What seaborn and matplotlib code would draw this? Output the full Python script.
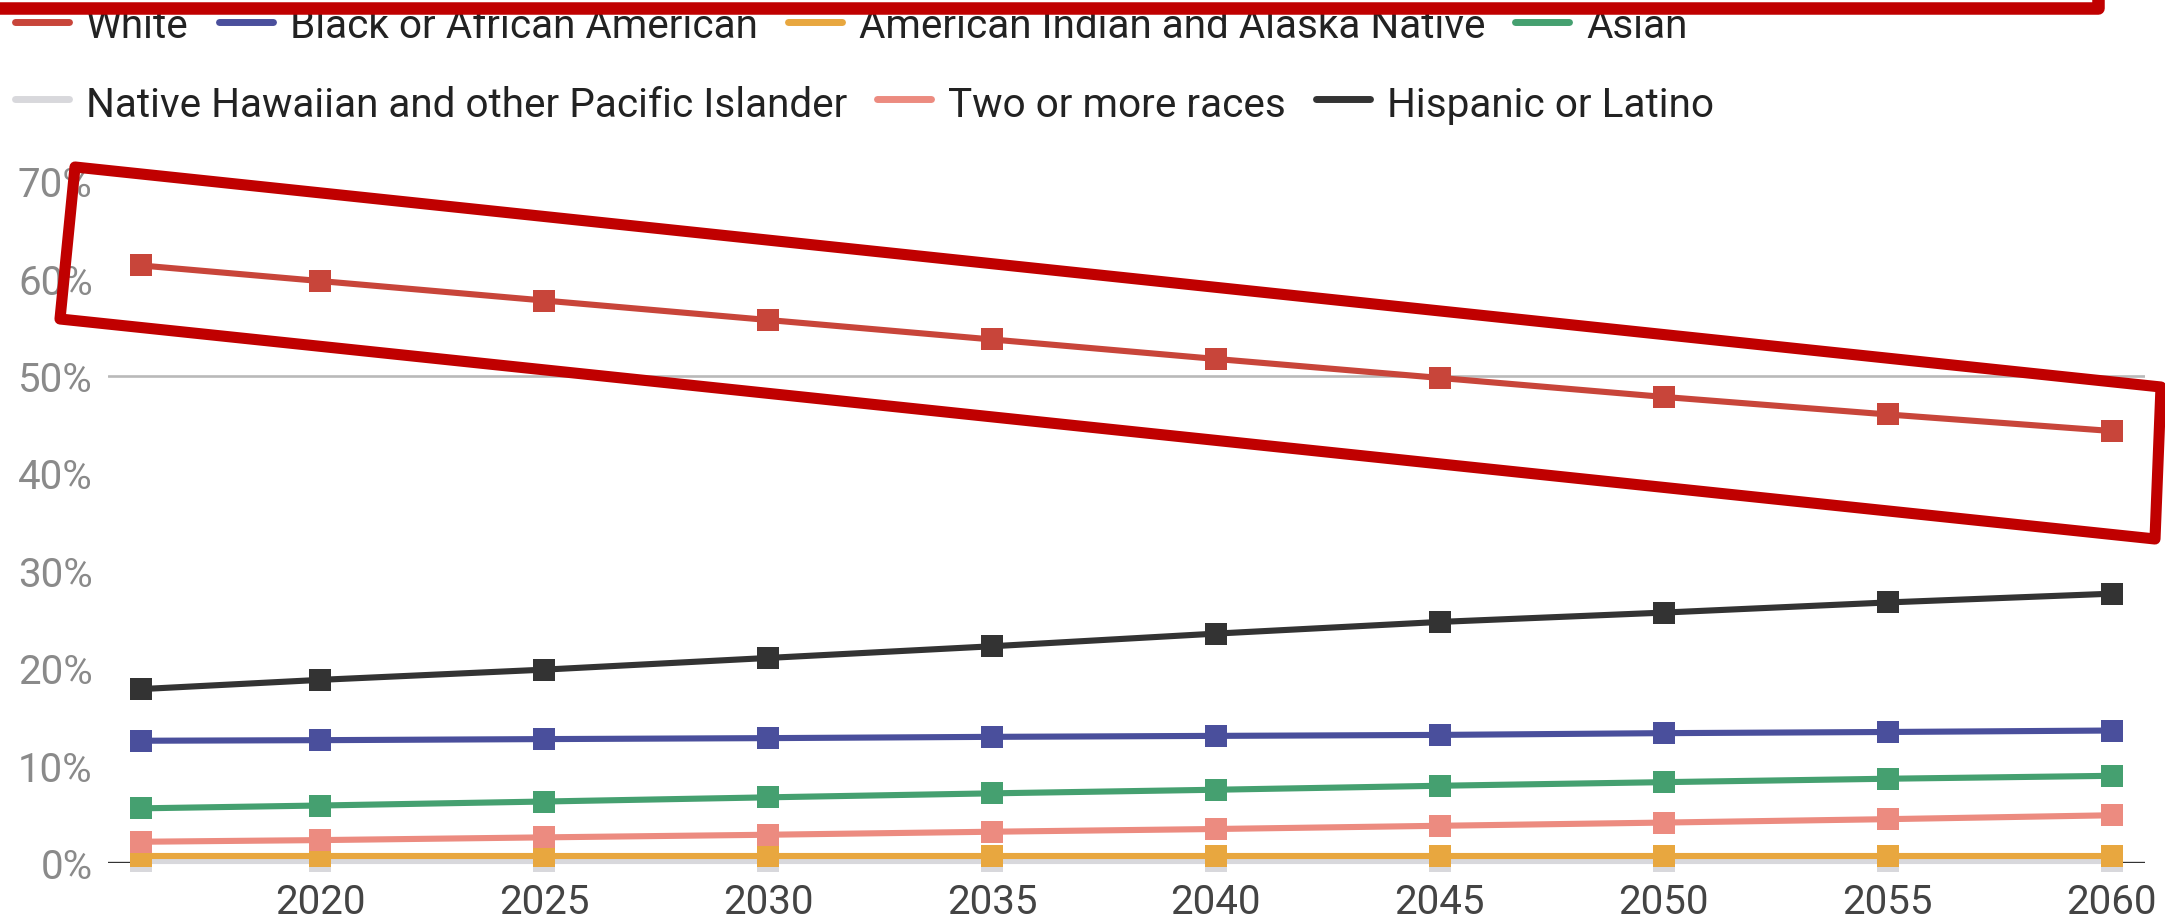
import matplotlib
matplotlib.use("Agg")
import matplotlib.pyplot as plt
from matplotlib.lines import Line2D
from matplotlib.patches import Polygon
import seaborn as sns
import pandas as pd

# Projected share of the U.S. population by race / ethnicity (%)
years = [2016, 2020, 2025, 2030, 2035, 2040, 2045, 2050, 2055, 2060]
white = [61.3, 59.7, 57.7, 55.7, 53.7, 51.7, 49.75, 47.8, 46.0, 44.3]
black = [12.5, 12.56, 12.67, 12.77, 12.9, 13.0, 13.1, 13.28, 13.4, 13.55]
aian = [0.7, 0.7, 0.7, 0.7, 0.7, 0.7, 0.7, 0.7, 0.7, 0.7]
asian = [5.56, 5.85, 6.26, 6.69, 7.1, 7.47, 7.88, 8.25, 8.6, 8.9]
nhpi = [0.2, 0.2, 0.2, 0.2, 0.2, 0.2, 0.2, 0.2, 0.2, 0.2]
two_plus = [2.13, 2.3, 2.58, 2.85, 3.16, 3.44, 3.77, 4.1, 4.45, 4.85]
hispanic = [17.8, 18.75, 19.8, 21.0, 22.2, 23.5, 24.7, 25.66, 26.7, 27.6]

groups = [
    "White",
    "Black or African American",
    "American Indian and Alaska Native",
    "Asian",
    "Native Hawaiian and other Pacific Islander",
    "Two or more races",
    "Hispanic or Latino",
]
series = [white, black, aian, asian, nhpi, two_plus, hispanic]
colors = ["#c8453a", "#4a4f9c", "#e8a73f", "#45a070", "#d8d8dc", "#ec8b80", "#333333"]
legend_rows = [groups[:4], groups[4:]]

x_ticks = [2020, 2025, 2030, 2035, 2040, 2045, 2050, 2055, 2060]
y_ticks = [0, 10, 20, 30, 40, 50, 60, 70]
y_labels = ["0%", "10%", "20%", "30%", "40%", "50%", "60%", "70%"]

df = pd.DataFrame(
    [(g, y, v) for g, vals in zip(groups, series) for y, v in zip(years, vals)],
    columns=["group", "year", "share"],
)

sns.set_theme(style="white")
plt.rcParams["font.family"] = ["Roboto", "DejaVu Sans"]

W, H = 2165, 920
fig = plt.figure(figsize=(W / 100, H / 100), dpi=100)
fig.patch.set_facecolor("white")


def fx(px):
    return px / W


def fy(py):
    return 1 - py / H


ax = fig.add_axes([fx(108), fy(863.5), fx(2145) - fx(108), fy(181.7) - fy(863.5)])
ax.set_facecolor("white")

palette = dict(zip(groups, colors))
draw_order = [groups[i] for i in (4, 2, 5, 3, 1, 6, 0)]
sns.lineplot(
    data=df, x="year", y="share", hue="group", hue_order=draw_order,
    palette=palette, marker="s", markersize=16.5, markeredgewidth=0,
    linewidth=4.4, legend=False, ax=ax, zorder=3,
)
for line in ax.lines:
    line.set_clip_on(False)

ax.axhline(50, color="#b9b9b9", lw=1.9, zorder=1)
ax.axhline(0, color="#333333", lw=1.7, zorder=1)

ax.set_xlim(2015.27, 2060.74)
ax.set_ylim(0, 70)
ax.set_xticks(x_ticks)
ax.set_xticklabels([str(t) for t in x_ticks], fontsize=29, color="#444444")
ax.set_yticks(y_ticks)
ax.set_yticklabels(y_labels, fontsize=29, color="#8a8a8a")
ax.tick_params(axis="both", length=0)
ax.tick_params(axis="y", pad=11)
ax.tick_params(axis="x", pad=14)
ax.set_xlabel("")
ax.set_ylabel("")
for s in ax.spines.values():
    s.set_visible(False)

# Legend laid out in flowing rows
fig.canvas.draw()
renderer = fig.canvas.get_renderer()
row_base = [38, 117]
row_line = [23, 99.5]
for r, row in enumerate(legend_rows):
    x = 15
    for name in row:
        fig.add_artist(Line2D([fx(x), fx(x + 54)], [fy(row_line[r])] * 2,
                              color=palette[name], lw=5, solid_capstyle="round",
                              transform=fig.transFigure))
        t = fig.text(fx(x + 71), fy(row_base[r]), name, fontsize=29.2,
                     color="#222222", va="baseline", ha="left")
        w = t.get_window_extent(renderer).width
        x = x + 71 + w + 30

# Highlight frames
frame_color = "#c00000"
tilted = [(75, 168), (2161, 388), (2155, 540), (60, 320)]
fig.add_artist(Polygon([(fx(a), fy(b)) for a, b in tilted], closed=True, fill=False,
                       edgecolor=frame_color, lw=8, joinstyle="round",
                       transform=fig.transFigure, zorder=10))
top_box = [(-60, -200), (2098, -200), (2098, 8.5), (-60, 8.5)]
fig.add_artist(Polygon([(fx(a), fy(b)) for a, b in top_box], closed=True, fill=False,
                       edgecolor=frame_color, lw=9, joinstyle="round",
                       transform=fig.transFigure, zorder=10))

fig.savefig("out.png", dpi=100, facecolor="white")
